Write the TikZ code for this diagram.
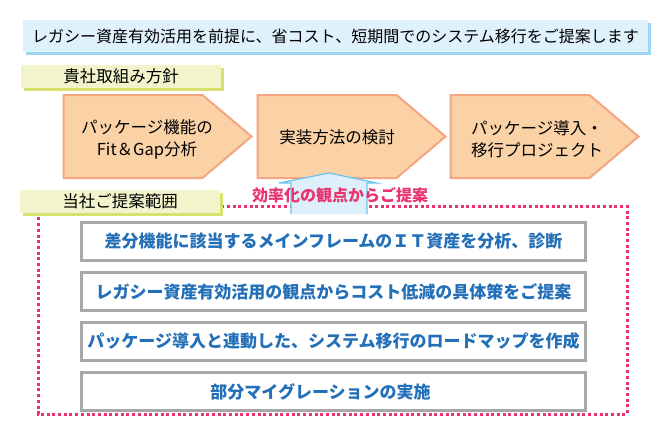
\documentclass[tikz,border=0pt]{standalone}
\usepackage{fontspec}
\setmainfont{Noto Sans CJK JP}
\usetikzlibrary{shapes.symbols,shadows,positioning}
\definecolor{bannerfill}{HTML}{DFF1FB}
\definecolor{bannershade}{HTML}{9ED6F2}
\definecolor{tagfill}{HTML}{F2F5CC}
\definecolor{tagshade}{HTML}{D9E16E}
\definecolor{stepfill}{HTML}{FAD2A6}
\definecolor{stepline}{HTML}{F4A582}
\definecolor{upfill}{HTML}{DDEFFA}
\definecolor{upline}{HTML}{6CC5EE}
\definecolor{accent}{HTML}{E8336E}
\definecolor{frame}{HTML}{A8A8A8}
\definecolor{itemtext}{HTML}{2470B8}

\begin{document}
\begin{tikzpicture}[x=1pt,y=-1pt,
  banner/.style={fill=bannerfill,minimum width=625pt,minimum height=32pt,inner sep=0pt,
    copy shadow={shadow xshift=3pt,shadow yshift=-3pt,fill=bannershade,draw=none},
    font=\fontsize{16}{20}\selectfont},
  tag/.style={fill=tagfill,minimum width=200pt,minimum height=23pt,inner sep=0pt,
    copy shadow={shadow xshift=3pt,shadow yshift=-3pt,fill=tagshade,draw=none},
    font=\fontsize{16.5}{20}\selectfont},
  stepbox/.style={signal,signal to=east,signal pointer angle=80.5,fill=stepfill,draw=stepline,
    line width=2pt,minimum width=188pt,minimum height=83pt,inner sep=0pt},
  steptext/.style={align=center,inner sep=0pt,font=\fontsize{16.5}{22}\selectfont},
  item/.style={draw=frame,line width=3pt,fill=white,minimum width=504pt,minimum height=38pt,
    inner sep=0pt,text=itemtext,font=\bfseries\fontsize{17}{20}\selectfont},
  scopeline/.style={draw=accent,line width=3pt,dash pattern=on 3pt off 2.7pt}]
  \useasboundingbox (0,0) rectangle (670,437);
  \node[banner] (goal) at (335.5,36) {レガシー資産有効活用を前提に、省コスト、短期間でのシステム移行をご提案します};
  \node[tag] (client) at (121,76.5) {貴社取組み方針};
  % client steps
  \node[stepbox] (fitgap) at (133,136.5) {};
  \node[stepbox] (impl) at (327,136.5) {};
  \node[stepbox] (migrate) at (520,136.5) {};
  \node[steptext] (fitgaptext) at ([xshift=14pt,yshift=-3pt]fitgap.center) {パッケージ機能の\\Fit＆Gap分析};
  \node[steptext] (impltext) at ([xshift=10pt,yshift=-1pt]impl.center) {実装方法の検討};
  \node[steptext] (migratetext) at ([xshift=17pt,yshift=-3pt]migrate.center) {パッケージ導入・\\移行プロジェクト};
  % our scope
  \draw[scopeline] (38,206) rectangle (627,414);
  \fill[upfill] (291,214) -- (291,183) -- (279,183) -- (329,173) -- (377,183) -- (367,183) -- (367,214) -- cycle;
  \draw[upline,line width=1.2pt] (291,214) -- (291,183) -- (279,183) -- (329,173) -- (377,183) -- (367,183) -- (367,214);
  \node[text=accent,font=\bfseries\fontsize{16}{20}\selectfont] (hint) at (340,195) {効率化の観点からご提案};
  \node[tag] (ours) at (120,201.5) {当社ご提案範囲};
  \node[item] (diff) at (333.5,241.5) {差分機能に該当するメインフレームのＩＴ資産を分析、診断};
  \node[item,below=9pt of diff] (cost) {レガシー資産有効活用の観点からコスト低減の具体策をご提案};
  \node[item,below=9pt of cost] (roadmap) {パッケージ導入と連動した、システム移行のロードマップを作成};
  \node[item,below=9pt of roadmap] (partial) {\hspace*{-26pt}部分マイグレーションの実施};
\end{tikzpicture}
\end{document}
